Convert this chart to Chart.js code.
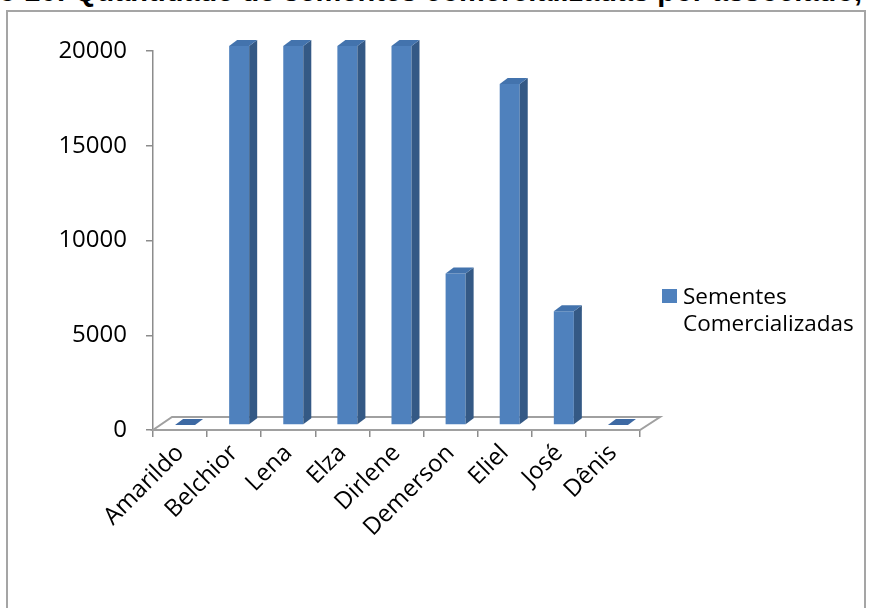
<!DOCTYPE html>
<html>
<head>
<meta charset="utf-8">
<script src="https://cdn.jsdelivr.net/npm/chart.js@4/dist/chart.umd.min.js"></script>
<style>
  html, body { margin: 0; padding: 0; background: #fff; }
  #wrap { position: relative; width: 869px; height: 608px; overflow: hidden; background: #fff; }
  #frame { position: absolute; left: 6px; top: 10px; width: 860px; height: 640px; border: 2px solid #a5a5a5; box-sizing: border-box; }
  #title { position: absolute; right: 7px; top: -23px; white-space: nowrap; font-family: "Liberation Sans", Arial, sans-serif; font-weight: bold; font-size: 29px; line-height: 29px; color: #000; }
  #chart { position: absolute; left: 0; top: 0; }
  #legend { position: absolute; left: 662px; top: 282px; font-family: "Open Sans", sans-serif; font-size: 22.5px; line-height: 27px; color: #000; }
  #legend .box { position: absolute; left: 0; top: 7px; width: 15px; height: 14px; background: #4f81bd; }
  #legend .txt { position: absolute; left: 21px; top: 0; white-space: nowrap; }
</style>
</head>
<body>
<div id="wrap">
  <div id="frame"></div>
  <div id="title">Gráfico 16: Quantidade de sementes comercializadas por associado,</div>
  <canvas id="chart" width="869" height="608"></canvas>
  <div id="legend"><div class="box"></div><div class="txt">Sementes<br>Comercializadas</div></div>
</div>
<script>
const categories = ['Amarildo', 'Belchior', 'Lena', 'Elza', 'Dirlene', 'Demerson', 'Eliel', 'José', 'Dênis'];
const sementesComercializadas = [0, 20000, 20000, 20000, 20000, 8000, 18000, 6000, 0];
const yTickValues = [0, 5000, 10000, 15000, 20000];
const seriesName = 'Sementes Comercializadas';

const FRONT = '#4f81bd';
const SIDE = '#345985';
const TOP = '#4373ad';
const AXIS = '#8c8c8c';
const SHIFT = { x: 5, y: -5 };
const DEPTH = { x: 8, y: -6 };
const FLOOR = { x: 20, y: -13 };

const bar3d = {
  id: 'bar3d',
  beforeDatasetsDraw(chart) {
    const ctx = chart.ctx;
    const a = chart.chartArea;
    ctx.save();
    ctx.fillStyle = '#ffffff';
    ctx.strokeStyle = '#a0a0a0';
    ctx.lineWidth = 2;
    ctx.beginPath();
    ctx.moveTo(a.left, a.bottom);
    ctx.lineTo(a.right, a.bottom);
    ctx.lineTo(a.right + FLOOR.x, a.bottom + FLOOR.y);
    ctx.lineTo(a.left + FLOOR.x - 1, a.bottom + FLOOR.y);
    ctx.closePath();
    ctx.fill();
    ctx.stroke();
    ctx.restore();
    ctx.save();
    ctx.translate(SHIFT.x, SHIFT.y);
  },
  afterDatasetsDraw(chart) {
    const ctx = chart.ctx;
    chart.getSortedVisibleDatasetMetas().forEach(meta => {
      meta.data.forEach(el => {
        const p = el.getProps(['x', 'y', 'base', 'width'], true);
        const l = p.x - p.width / 2, r = p.x + p.width / 2;
        const top = Math.min(p.y, p.base), bot = Math.max(p.y, p.base);
        if (bot - top > 0.5) {
          ctx.fillStyle = SIDE;
          ctx.beginPath();
          ctx.moveTo(r, top);
          ctx.lineTo(r + DEPTH.x, top + DEPTH.y);
          ctx.lineTo(r + DEPTH.x, bot + DEPTH.y);
          ctx.lineTo(r, bot);
          ctx.closePath();
          ctx.fill();
        }
        ctx.fillStyle = (bot - top > 0.5) ? TOP : '#3d69a3';
        ctx.beginPath();
        ctx.moveTo(l, top);
        ctx.lineTo(l + DEPTH.x, top + DEPTH.y);
        ctx.lineTo(r + DEPTH.x, top + DEPTH.y);
        ctx.lineTo(r, top);
        ctx.closePath();
        ctx.fill();
      });
    });
    ctx.restore();
  }
};

new Chart(document.getElementById('chart'), {
  type: 'bar',
  data: {
    labels: categories,
    datasets: [{
      label: seriesName,
      data: sementesComercializadas,
      backgroundColor: FRONT,
      borderWidth: 0,
      categoryPercentage: 1.0,
      barPercentage: 0.37,
      clip: false
    }]
  },
  options: {
    responsive: false,
    animation: false,
    events: [],
    layout: { padding: { left: 0, right: 229, top: 51, bottom: 0 } },
    plugins: { legend: { display: false }, tooltip: { enabled: false }, title: { display: false } },
    scales: {
      x: {
        offset: true,
        grid: { offset: true, drawOnChartArea: false, tickLength: 7, color: AXIS, lineWidth: 1.5 },
        border: { color: AXIS, width: 1.5 },
        ticks: { color: '#000', font: { family: 'Open Sans', size: 24 }, minRotation: 45, maxRotation: 45, padding: 2, autoSkip: false },
        afterFit(scale) { scale.height = 178; }
      },
      y: {
        min: 0,
        max: 20000,
        afterBuildTicks(scale) { scale.ticks = yTickValues.map(v => ({ value: v })); },
        grid: { drawOnChartArea: false, tickLength: 7, color: AXIS, lineWidth: 1.5 },
        border: { color: AXIS, width: 1.5 },
        ticks: { color: '#000', font: { family: 'Open Sans', size: 24 }, padding: 19, callback: v => String(v) },
        afterFit(scale) { scale.width = 153; }
      }
    }
  },
  plugins: [bar3d]
});
</script>
</body>
</html>
